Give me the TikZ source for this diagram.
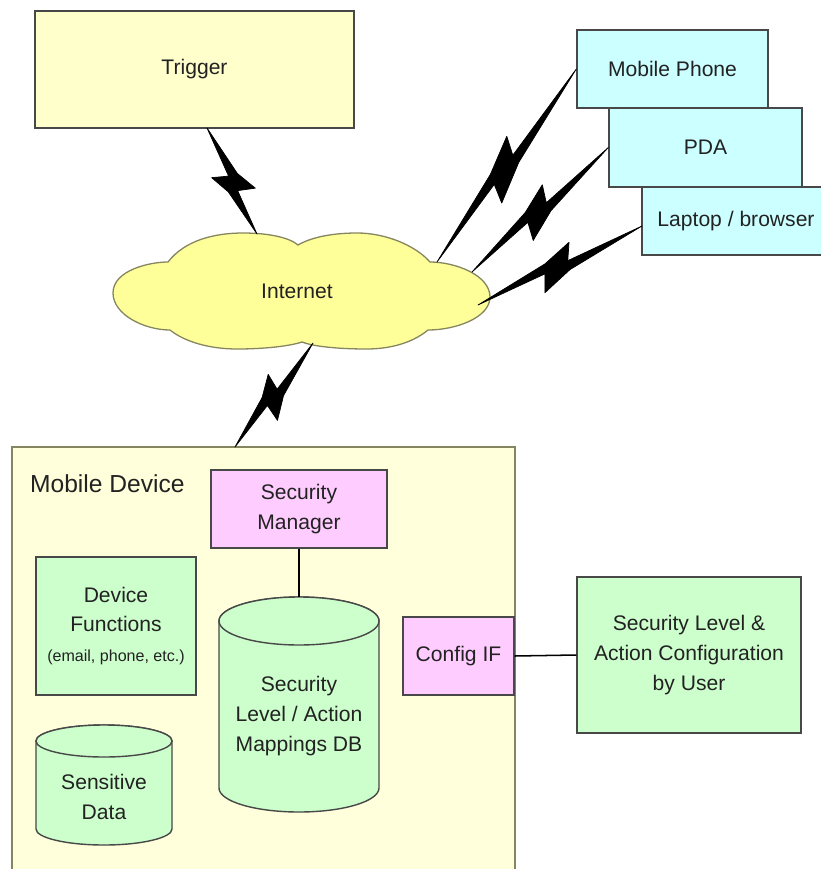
\documentclass[tikz,border=0pt]{standalone}
\usepackage{fontspec}
\setmainfont{Liberation Sans}
\usetikzlibrary{calc}
\definecolor{trigfill}{HTML}{FFFFCC}
\definecolor{devfill}{HTML}{FFFFDB}
\definecolor{cloudfill}{HTML}{FFFF99}
\definecolor{cyanfill}{HTML}{CCFFFF}
\definecolor{greenfill}{HTML}{CCFFCC}
\definecolor{pinkfill}{HTML}{FFCCFF}
\definecolor{edgecol}{HTML}{484848}
\definecolor{olivecol}{HTML}{85855F}
\definecolor{txtcol}{HTML}{222222}
\newcommand{\px}{0.03cm}
% lightning bolt from #1 (upper end) to #2
\newcommand{\zap}[2]{%
  \filldraw[bolt] (#1) -- ($(#1)!.46!(#2)!.24cm!90:(#2)$) -- ($(#1)!.64!(#2)!.54cm!90:(#2)$)
    -- ($(#1)!.595!(#2)!.03cm!90:(#2)$) -- (#2) -- ($(#1)!.57!(#2)!.24cm!270:(#2)$)
    -- ($(#1)!.40!(#2)!.51cm!270:(#2)$) -- ($(#1)!.45!(#2)!.03cm!270:(#2)$) -- cycle;}
% cylinder: centre x, top, bottom, x radius, y radius
\newcommand{\drum}[5]{%
  \filldraw[drumline] (#1-#4,#2+#5) -- (#1-#4,#3-#5) arc (180:0:#4 and #5)
    -- (#1+#4,#2+#5) arc (0:-180:#4 and #5) -- cycle;
  \draw[drumline] (#1,#2+#5) ellipse (#4 and #5);}
\tikzset{
  box/.style={draw=edgecol, line width=1.2pt, text=txtcol, align=center,
    font=\fontsize{18}{25.5}\selectfont, inner sep=0pt},
  bolt/.style={fill=black, draw=black, line width=.6pt, line join=round},
  drumline/.style={draw=edgecol, fill=greenfill, line width=1.2pt},
  wire/.style={draw=black, line width=1.3pt}
}
\begin{document}
\begin{tikzpicture}[x=\px, y=-\px]
  \useasboundingbox (0,0) rectangle (821,869);
  \clip (0,0) rectangle (821,869);
  % top row
  \node[box, fill=trigfill, minimum width=319*\px, minimum height=117*\px] (trigger) at (194.5,69.5) {Trigger};
  \node[box, fill=cyanfill, minimum width=191*\px, minimum height=78*\px] (phone) at (672.5,69) {Mobile Phone};
  \node[box, fill=cyanfill, minimum width=193*\px, minimum height=79*\px] (pda) at (705.5,147.5) {PDA};
  \node[box, fill=cyanfill, minimum width=188*\px, minimum height=68*\px] (laptop) at (736,221) {Laptop / browser};
  % internet cloud
  \filldraw[draw=olivecol, fill=cloudfill, line width=1.1pt] (113,293)
    .. controls (113,270) and (150,262) .. (168,262)
    .. controls (185,240) and (215,233) .. (243,233)
    .. controls (270,233) and (290,238) .. (298,245)
    .. controls (310,238) and (330,233) .. (357,233)
    .. controls (385,233) and (415,245) .. (430,262)
    .. controls (455,262) and (490,275) .. (490,297)
    .. controls (490,318) and (455,330) .. (428,330)
    .. controls (410,345) and (385,349) .. (367,349)
    .. controls (335,349) and (312,346) .. (302,342)
    .. controls (290,346) and (265,349) .. (237,349)
    .. controls (210,349) and (185,342) .. (170,330)
    .. controls (145,330) and (113,315) .. (113,293) -- cycle;
  \node[text=txtcol, font=\fontsize{18}{25.5}\selectfont] (inet) at (297,291) {Internet};
  % mobile device
  \node[draw=olivecol, fill=devfill, line width=1.2pt, minimum width=503*\px, minimum height=442*\px] (device) at (263.5,668) {};
  \node[anchor=west, text=txtcol, font=\fontsize{21}{25}\selectfont] (devlabel) at (26,484) {Mobile Device};
  \node[box, fill=pinkfill, minimum width=176*\px, minimum height=78*\px] (secmgr) at (299,509) {Security\\Manager};
  \node[box, fill=greenfill, minimum width=160*\px, minimum height=138*\px] (devfunc) at (116,626)
    {Device\\Functions\\{\fontsize{13.7}{16}\selectfont (email, phone, etc.)}};
  \node[box, fill=pinkfill, minimum width=111*\px, minimum height=78*\px] (cfgif) at (458.5,656) {Config IF};
  \node[box, fill=greenfill, minimum width=224*\px, minimum height=156*\px] (usercfg) at (689,655)
    {Security Level \&\\Action Configuration\\by User};
  % data stores
  \drum{299}{597}{812}{80}{24}
  \coordinate (dbtop) at (299,597);
  \node[text=txtcol, align=center, font=\fontsize{18}{25.5}\selectfont] (secdb) at (299,716)
    {Security\\Level / Action\\Mappings DB};
  \drum{104}{725}{845}{68}{16}
  \node[text=txtcol, align=center, font=\fontsize{18}{25.5}\selectfont] (sensdata) at (104,797) {Sensitive\\Data};
  % wires
  \draw[wire] (secmgr.south) -- (dbtop);
  \draw[wire] (cfgif.east) -- (usercfg.west);
  % radio links
  \coordinate (trg) at (207,128);
  \coordinate (netup) at (257,234);
  \coordinate (netr1) at (437,262);
  \coordinate (netr2) at (472,272);
  \coordinate (netr3) at (478,305);
  \coordinate (lapin) at (642,226);
  \coordinate (netdn) at (313,343);
  \coordinate (devin) at (235,447);
  \zap{trg}{netup}
  \zap{phone.west}{netr1}
  \zap{pda.west}{netr2}
  \zap{lapin}{netr3}
  \zap{netdn}{devin}
\end{tikzpicture}
\end{document}
